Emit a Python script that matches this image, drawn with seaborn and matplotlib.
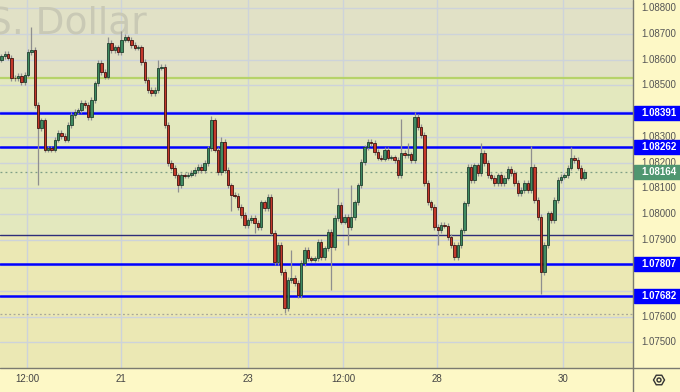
import numpy as np
import pandas as pd
import matplotlib
matplotlib.use("Agg")
import matplotlib.pyplot as plt
from matplotlib.patches import Rectangle, RegularPolygon, Circle
import seaborn as sns

# ---------------- data ----------------
first_open = 1.08600
closes = [
    1.08614, 1.08622, 1.08607, 1.08529, 1.08527, 1.08537, 1.08513, 1.08541, 1.08630, 1.08638,
    1.08424, 1.08334, 1.08365, 1.08249, 1.08256, 1.08249, 1.08288, 1.08315, 1.08303, 1.08288,
    1.08346, 1.08385, 1.08397, 1.08404, 1.08432, 1.08424, 1.08377, 1.08443, 1.08509, 1.08587,
    1.08552, 1.08533, 1.08665, 1.08638, 1.08649, 1.08630, 1.08677, 1.08688, 1.08677, 1.08657,
    1.08646, 1.08649, 1.08591, 1.08521, 1.08482, 1.08470, 1.08482, 1.08568, 1.08572, 1.08346,
    1.08198, 1.08179, 1.08151, 1.08112, 1.08151, 1.08148, 1.08153, 1.08159, 1.08171, 1.08183,
    1.08171, 1.08198, 1.08256, 1.08365, 1.08249, 1.08163, 1.08280, 1.08171, 1.08112, 1.08074,
    1.08070, 1.08027, 1.07996, 1.07957, 1.07976, 1.07984, 1.07965, 1.07949, 1.08046, 1.08023,
    1.08066, 1.07926, 1.07813, 1.07879, 1.07774, 1.07634, 1.07743, 1.07751, 1.07731, 1.07684,
    1.07809, 1.07860, 1.07828, 1.07821, 1.07828, 1.07891, 1.07832, 1.07867, 1.07930, 1.07871,
    1.07984, 1.08035, 1.07969, 1.07988, 1.07949, 1.07988, 1.08046, 1.08112, 1.08202, 1.08260,
    1.08280, 1.08276, 1.08241, 1.08218, 1.08215, 1.08249, 1.08218, 1.08221, 1.08210, 1.08151,
    1.08237, 1.08229, 1.08232, 1.08210, 1.08377, 1.08338, 1.08307, 1.08120, 1.08046, 1.08027,
    1.07949, 1.07937, 1.07957, 1.07954, 1.07910, 1.07879, 1.07832, 1.07879, 1.07937, 1.08042,
    1.08183, 1.08132, 1.08190, 1.08159, 1.08237, 1.08198, 1.08151, 1.08140, 1.08120, 1.08151,
    1.08120, 1.08140, 1.08175, 1.08159, 1.08120, 1.08081, 1.08093, 1.08120, 1.08093, 1.08183,
    1.08054, 1.07988, 1.07774, 1.07879, 1.08003, 1.07976, 1.08054, 1.08132, 1.08144, 1.08151,
    1.08179, 1.08218, 1.08210, 1.08179, 1.08140, 1.08164,
]
high_overrides = {9: 1.08727, 32: 1.08690, 36: 1.08712, 37: 1.08700, 47: 1.08600,
                  63: 1.08380, 66: 1.08300, 87: 1.07860, 101: 1.08100, 105: 1.08112,
                  120: 1.08370, 122: 1.08276, 124: 1.08397, 144: 1.08276, 159: 1.08265,
                  171: 1.08260}
low_overrides = {11: 1.08112, 53: 1.08085, 69: 1.08010, 76: 1.07926, 85: 1.07614,
                 99: 1.07704, 104: 1.07880, 131: 1.07880, 162: 1.07690}
wick = 0.00010

level_prices = [1.08391, 1.08262, 1.07807, 1.07682]
zone_top = 1.08529
zone_bottom = 1.07918
last_price = 1.08164
low_marker = 1.07611
price_ticks = [1.07500, 1.07600, 1.07700, 1.07800, 1.07900, 1.08000, 1.08100,
               1.08200, 1.08300, 1.08400, 1.08500, 1.08600, 1.08700, 1.08800]
time_tick_pos = [7.7, 35.8, 73.9, 102.5, 130.7, 168.7]
time_tick_labels = ["12:00", "21", "23", "12:00", "28", "30"]
watermark = "S. Dollar"

# ---------------- table ----------------
opens = [first_open] + closes[:-1]
df = pd.DataFrame({"idx": np.arange(len(closes)), "open": opens, "close": closes})
df["high"] = [high_overrides.get(i, max(o, c) + wick) for i, o, c in zip(df.idx, df.open, df.close)]
df["low"] = [low_overrides.get(i, min(o, c) - wick) for i, o, c in zip(df.idx, df.open, df.close)]
df["up"] = df.close >= df.open

# ---------------- style ----------------
sns.set_theme(style="white")
plt.rcParams["font.family"] = ["Liberation Sans", "DejaVu Sans"]

W, H = 680, 392
fig = plt.figure(figsize=(W / 100, H / 100), dpi=100)
fig.patch.set_facecolor("#fdf8c6")

PW, PH = 633, 368
ax = fig.add_axes([0, (H - PH) / H, PW / W, PH / H])
YMIN, YMAX = 1.074004, 1.088323
XMIN, XMAX = -0.45, 189.6
ax.set_xlim(XMIN, XMAX)
ax.set_ylim(YMIN, YMAX)
ax.set_axis_off()

# background zones
ax.axhspan(zone_top, YMAX, color="#e1e1c6", zorder=0, lw=0)
ax.axhspan(zone_bottom, zone_top, color="#e3e8be", zorder=0, lw=0)
ax.axhspan(YMIN, zone_bottom, color="#ebe8b4", zorder=0, lw=0)

# grid
for p in price_ticks:
    ax.axhline(p, color="#cdd3da", lw=1.0, zorder=1)
for t in time_tick_pos:
    ax.axvline(t, color="#cdd3da", lw=1.0, zorder=1)

# watermark
ax.text(-12 / PW, (PH - 33) / PH, watermark, transform=ax.transAxes, fontsize=27,
        family="DejaVu Sans", color="#c9c9b5", va="baseline", ha="left", zorder=1.5)

# zone / marker lines
ax.axhline(zone_top, color="#b6d36a", lw=1.6, zorder=2)
ax.axhline(zone_bottom, color="#2e2e7a", lw=1.0, zorder=2)
ax.axhline(last_price, color="#7f9f86", lw=0.9, ls=(0, (1.5, 2.5)), zorder=2)
ax.axhline(low_marker, color="#a8a89a", lw=0.9, ls=(0, (1.5, 2.0)), zorder=2)
for p in level_prices:
    ax.axhline(p, color="#0000ff", lw=1.8, zorder=2.5)

# candles
ax.vlines(df.idx, df.low, df.high, color="#8f8f8f", lw=0.9, zorder=3)
body_h = (df.close - df.open).abs().clip(lower=0.00003)
body_b = df[["open", "close"]].min(axis=1)
colors = np.where(df.up, "#3f8a61", "#c4382b")
edges = np.where(df.up, "#1f3f2d", "#3f1410")
ax.bar(df.idx, body_h, bottom=body_b, width=0.72, color=colors, edgecolor=edges,
       linewidth=0.6, zorder=4)

# ---------------- right price panel ----------------
RW = W - PW
ax2 = fig.add_axes([PW / W, (H - PH) / H, RW / W, PH / H])
ax2.set_xlim(0, RW)
ax2.set_ylim(YMIN, YMAX)
ax2.set_axis_off()
ax2.add_patch(Rectangle((0, YMIN), RW, YMAX - YMIN, color="#fdf8c6", zorder=0))
pxp = (YMAX - YMIN) / PH
badge_prices = level_prices + [last_price]
for p in price_ticks:
    # labels fully covered by a badge are not visible in the chart
    if min(abs(p - b) for b in badge_prices) < 6 * pxp:
        continue
    ax2.text(8, p, f"{p:.5f}", fontsize=7, color="#555555", va="center", ha="left", zorder=1)
bh = 14 * pxp
for p in level_prices:
    ax2.add_patch(Rectangle((0.5, p - bh / 2), RW, bh, color="#0000ff", zorder=2))
    ax2.text(8, p, f"{p:.5f}", fontsize=7, color="white", fontweight="bold",
             va="center", ha="left", zorder=3)
ax2.add_patch(Rectangle((0.5, last_price - bh / 2), RW, bh, color="#4f9670", zorder=2))
ax2.text(8, last_price, f"{last_price:.5f}", fontsize=7, color="white", fontweight="bold",
         va="center", ha="left", zorder=3)

# ---------------- bottom time panel ----------------
BH = H - PH
ax3 = fig.add_axes([0, 0, PW / W, BH / H])
ax3.set_xlim(XMIN, XMAX)
ax3.set_ylim(0, BH)
ax3.set_axis_off()
ax3.add_patch(Rectangle((XMIN, 0), XMAX - XMIN, BH, color="#fdf8c6", zorder=0))
for t, lab in zip(time_tick_pos, time_tick_labels):
    ax3.text(t, 12.5, lab, fontsize=7, color="#444444", ha="center", va="center")

# corner with settings icon
ax4 = fig.add_axes([PW / W, 0, RW / W, BH / H])
ax4.set_xlim(0, RW)
ax4.set_ylim(0, BH)
ax4.set_axis_off()
ax4.set_aspect("equal", adjustable="datalim")
ax4.add_patch(Rectangle((0, 0), RW, BH, color="#fdf8c6", zorder=0))
ax4.add_patch(RegularPolygon((26, 12), numVertices=6, radius=5.5, fill=False,
                             edgecolor="#333333", lw=1.0, orientation=np.pi / 6))
ax4.add_patch(Circle((26, 12), 2.0, fill=False, edgecolor="#333333", lw=1.0))

# separators
fig.add_artist(plt.Line2D([PW / W, PW / W], [0, 1], color="#7a7a70", lw=1.0))
fig.add_artist(plt.Line2D([0, 1], [BH / H, BH / H], color="#7a7a70", lw=1.0))

fig.savefig("out.png", dpi=100, facecolor=fig.get_facecolor())
